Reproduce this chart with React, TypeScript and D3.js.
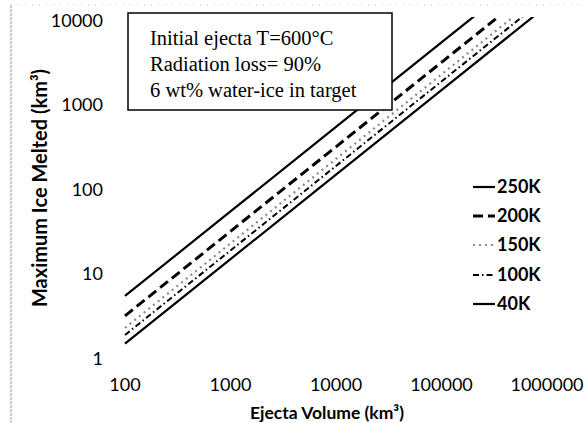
import React from "react";
import * as d3 from "d3";

const volumes = [100, 1000, 10000, 100000, 1000000];
const seriesNames = ["250K", "200K", "150K", "100K", "40K"];
const ice250 = [5.5, 55, 550, 5500, 55000];
const ice200 = [3.2, 32, 320, 3200, 32000];
const ice150 = [2.3, 23, 230, 2300, 23000];
const ice100 = [1.9, 19, 190, 1900, 19000];
const ice40 = [1.5, 15, 150, 1500, 15000];
const xTicks = [100, 1000, 10000, 100000, 1000000];
const yTicks = [1, 10, 100, 1000, 10000];
const boxLines = ["Initial ejecta T=600°C", "Radiation loss= 90%", "6 wt% water-ice in target"];

const seriesValues = [ice250, ice200, ice150, ice100, ice40];
const styles = [
  { stroke: "#000", width: 2.2, dash: "" },
  { stroke: "#000", width: 3, dash: "10 5" },
  { stroke: "#8a8a8a", width: 2.2, dash: "2 4" },
  { stroke: "#000", width: 2, dash: "6 3 1.5 3" },
  { stroke: "#000", width: 2.2, dash: "" },
];

export default function App() {
  const x = d3.scaleLog().domain([100, 1000000]).range([125, 547]);
  const y = d3.scaleLog().domain([1, 10000]).range([358.5, 20.5]);
  const line = d3
    .line<number>()
    .x((_, i) => x(volumes[i]))
    .y((d) => y(d));
  const sans = "Lato, 'Open Sans', sans-serif";
  const legendY = [187, 216, 245, 275, 304];
  return (
    <svg
      width={585}
      height={423}
      style={{ position: "absolute", left: 0, top: 0, background: "#fff" }}
    >
      <rect x={0} y={0} width={585} height={423} fill="#fff" />
      <line x1={11} y1={5} x2={11} y2={423} stroke="#999" strokeWidth={1} strokeDasharray="3 1" />
      <line x1={11} y1={5} x2={585} y2={5} stroke="#bbb" strokeWidth={1} strokeDasharray="1 6" />
      <defs>
        <clipPath id="plot">
          <rect x={120} y={17} width={440} height={345} />
        </clipPath>
      </defs>
      <g clipPath="url(#plot)">
        {seriesValues.map((vals, i) => (
          <path
            key={seriesNames[i]}
            d={line(vals) || ""}
            fill="none"
            stroke={styles[i].stroke}
            strokeWidth={styles[i].width}
            strokeDasharray={styles[i].dash}
          />
        ))}
      </g>
      {yTicks.map((t) => (
        <text
          key={"y" + t}
          x={103}
          y={y(t)}
          dy="0.36em"
          textAnchor="end"
          fontFamily={sans}
          fontSize={18}
          fill="#000"
        >
          {t}
        </text>
      ))}
      {xTicks.map((t) => (
        <text
          key={"x" + t}
          x={x(t)}
          y={391}
          textAnchor="middle"
          fontFamily={sans}
          fontSize={18}
          fill="#000"
        >
          {t}
        </text>
      ))}
      <text
        x={327}
        y={419}
        textAnchor="middle"
        fontFamily={sans}
        fontWeight="bold"
        fontSize={17.5}
      >
        Ejecta Volume (km³)
      </text>
      <text
        transform="translate(47,188) rotate(-90)"
        textAnchor="middle"
        fontFamily={sans}
        fontWeight="bold"
        fontSize={20}
      >
        Maximum Ice Melted (km³)
      </text>
      <rect x={128} y={13} width={264} height={97} fill="#fff" stroke="#000" strokeWidth={1.5} />
      {boxLines.map((s, i) => (
        <text
          key={s}
          x={150}
          y={45 + i * 26}
          fontFamily="'Liberation Serif', 'Times New Roman', serif"
          fontSize={20.5}
          fill="#000"
        >
          {s}
        </text>
      ))}
      {seriesNames.map((n, i) => (
        <g key={"lg" + n}>
          <line
            x1={473}
            x2={495}
            y1={legendY[i]}
            y2={legendY[i]}
            stroke={styles[i].stroke}
            strokeWidth={styles[i].width}
            strokeDasharray={styles[i].dash}
          />
          <text
            x={497}
            y={legendY[i]}
            dy="0.36em"
            fontFamily={sans}
            fontWeight="bold"
            fontSize={18}
          >
            {n}
          </text>
        </g>
      ))}
    </svg>
  );
}
